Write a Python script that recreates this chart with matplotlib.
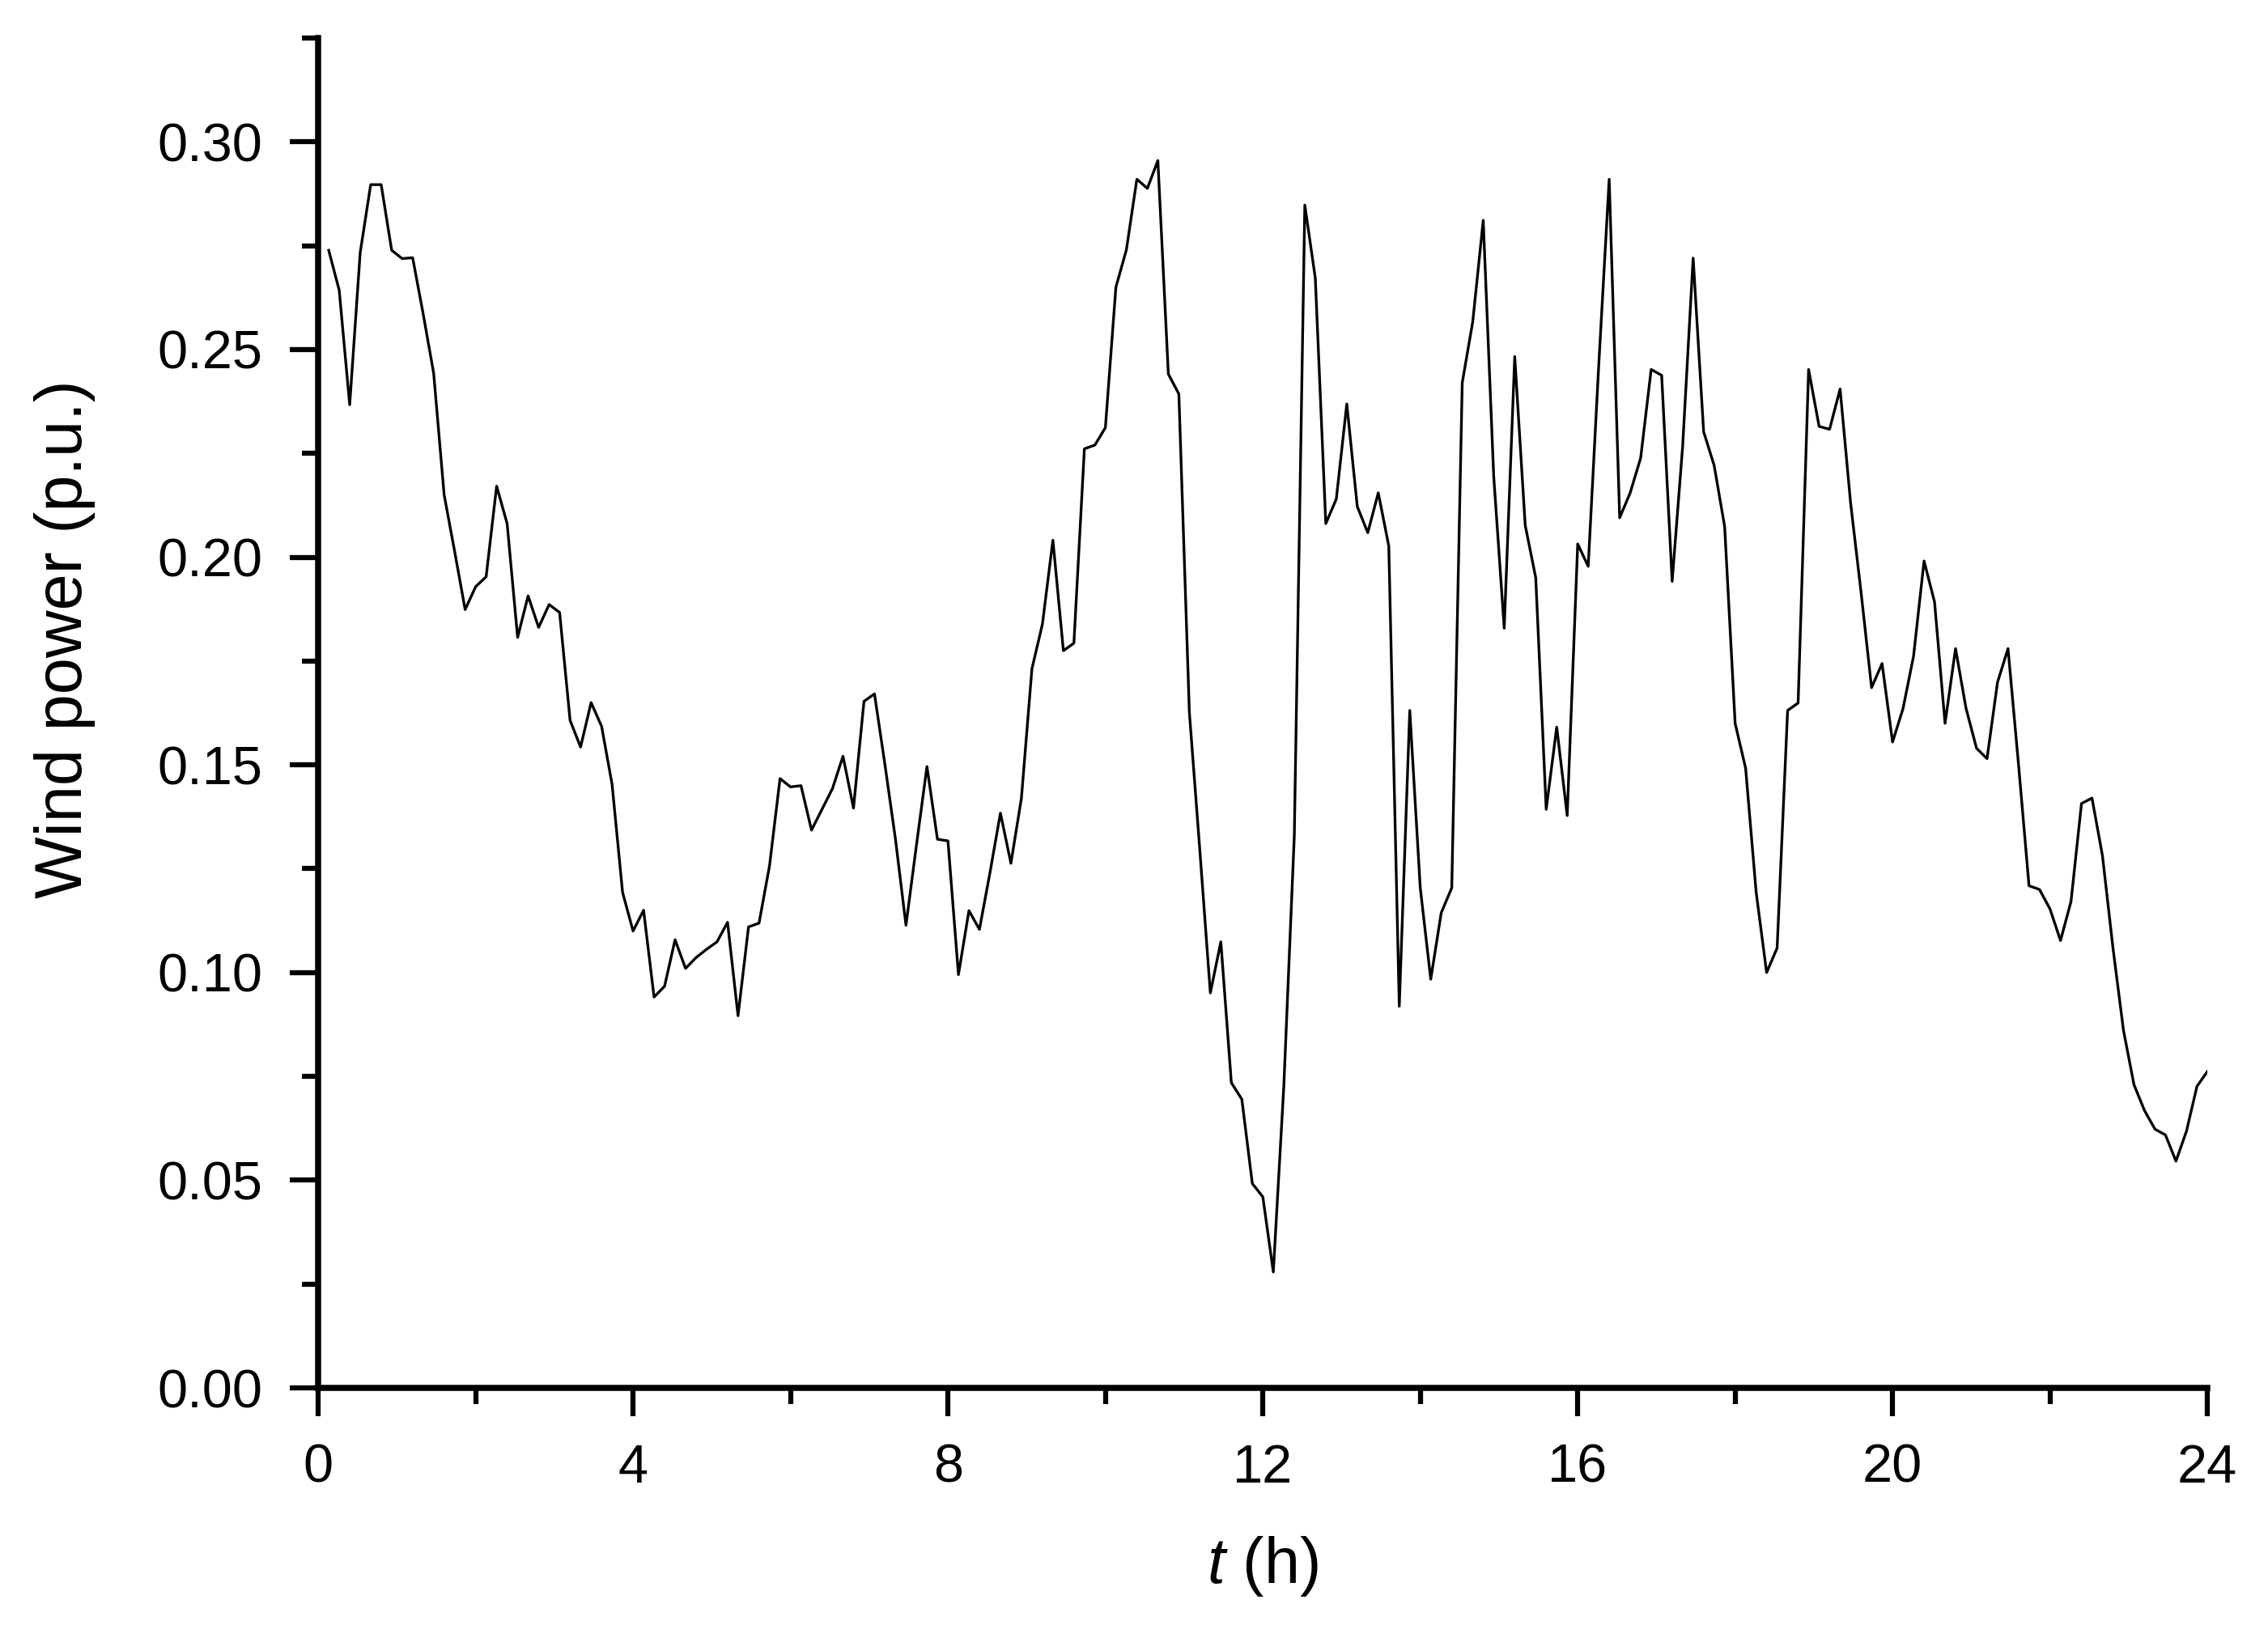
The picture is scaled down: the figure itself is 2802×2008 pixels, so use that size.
import numpy as np
import matplotlib; matplotlib.use("Agg")
import matplotlib.pyplot as plt
from matplotlib.ticker import MultipleLocator

plt.rcParams["font.family"] = ["Liberation Sans", "DejaVu Sans"]
plt.rcParams["mathtext.fontset"] = "custom"
plt.rcParams["mathtext.it"] = "Liberation Sans:italic"
plt.rcParams["mathtext.rm"] = "Liberation Sans"

# 8-min samples over one day (180 points)
t_h = np.arange(1, 181) * 24 / 180
wind_pu = [
    0.2739, 0.2643, 0.2367, 0.2733, 0.2897, 0.2897, 0.2739, 0.2719, 0.2721, 0.2586,
    0.2443, 0.2150, 0.2014, 0.1874, 0.1929, 0.1953, 0.2171, 0.2081, 0.1807, 0.1907,
    0.1831, 0.1886, 0.1867, 0.1607, 0.1543, 0.1650, 0.1593, 0.1453, 0.1193, 0.1100,
    0.1150, 0.0941, 0.0967, 0.1079, 0.1010, 0.1036, 0.1056, 0.1074, 0.1121, 0.0896,
    0.1110, 0.1119, 0.1257, 0.1467, 0.1447, 0.1450, 0.1343, 0.1393, 0.1443, 0.1521,
    0.1396, 0.1653, 0.1671, 0.1500, 0.1321, 0.1114, 0.1307, 0.1496, 0.1321, 0.1317,
    0.0995, 0.1149, 0.1104, 0.1240, 0.1384, 0.1263, 0.1420, 0.1731, 0.1839, 0.2041,
    0.1775, 0.1793, 0.2261, 0.2270, 0.2312, 0.2650, 0.2740, 0.2910, 0.2888, 0.2955,
    0.2441, 0.2393, 0.1627, 0.1294, 0.0951, 0.1074, 0.0735, 0.0695, 0.0492, 0.0460,
    0.0279, 0.0726, 0.1330, 0.2848, 0.2672, 0.2081, 0.2140, 0.2369, 0.2122, 0.2059,
    0.2155, 0.2027, 0.0919, 0.1631, 0.1204, 0.0984, 0.1144, 0.1204, 0.2420, 0.2567,
    0.2811, 0.2194, 0.1829, 0.2483, 0.2077, 0.1951, 0.1393, 0.1591, 0.1378, 0.2032,
    0.1978, 0.2460, 0.2910, 0.2095, 0.2155, 0.2239, 0.2452, 0.2438, 0.1942, 0.2267,
    0.2720, 0.2302, 0.2221, 0.2074, 0.1600, 0.1492, 0.1194, 0.1000, 0.1059, 0.1631,
    0.1649, 0.2452, 0.2315, 0.2308, 0.2405, 0.2131, 0.1915, 0.1686, 0.1744, 0.1555,
    0.1636, 0.1762, 0.1991, 0.1892, 0.1600, 0.1780, 0.1636, 0.1540, 0.1515, 0.1699,
    0.1780, 0.1501, 0.1209, 0.1200, 0.1153, 0.1077, 0.1171, 0.1407, 0.1420, 0.1281,
    0.1059, 0.0861, 0.0730, 0.0668, 0.0623, 0.0609, 0.0546, 0.0618, 0.0726, 0.0762,
]

fig = plt.figure(figsize=(2802/300, 2008/300), dpi=300)
ax = fig.add_axes([0.1403, 0.1459, 0.8330, 0.8307])
ax.plot(t_h, wind_pu, color="black", lw=0.8)

ax.set_xlim(0, 24); ax.set_ylim(0, 0.325)
ax.xaxis.set_major_locator(MultipleLocator(4)); ax.xaxis.set_minor_locator(MultipleLocator(2))
ax.yaxis.set_major_locator(MultipleLocator(0.05)); ax.yaxis.set_minor_locator(MultipleLocator(0.025))
ax.yaxis.set_major_formatter(plt.FormatStrFormatter("%.2f"))
for s in ["top", "right"]: ax.spines[s].set_visible(False)
for s in ["left", "bottom"]: ax.spines[s].set_linewidth(1.8)
ax.tick_params(which="major", direction="out", length=8.5, width=1.5, labelsize=16, pad=8)
ax.tick_params(which="minor", direction="out", length=4.8, width=1.5)

ax.set_xlabel("$t$ (h)", fontsize=19, labelpad=12)
ax.set_ylabel("Wind power (p.u.)", fontsize=19.5)
ax.yaxis.set_label_coords(-0.118, 0.555)

fig.savefig("out.png", dpi=300)
